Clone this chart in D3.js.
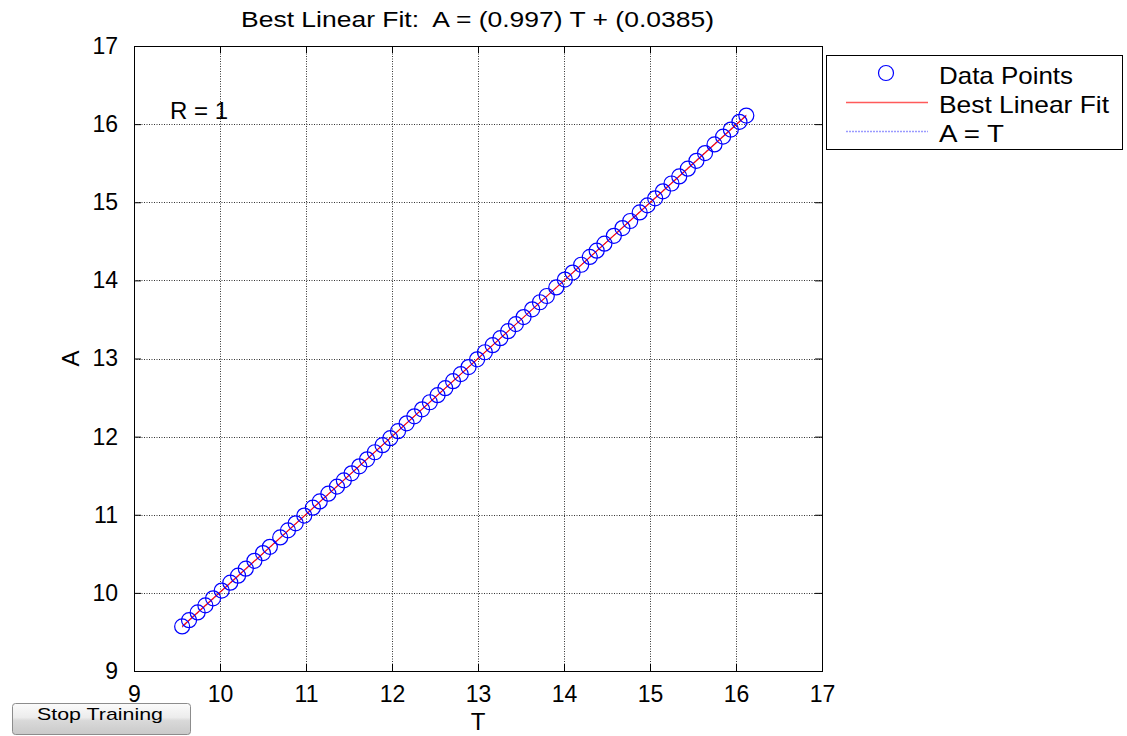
<!DOCTYPE html>
<html>
<head>
<meta charset="utf-8">
<script src="https://cdn.jsdelivr.net/npm/d3@7/dist/d3.min.js"></script>
<style>
  html, body { margin: 0; padding: 0; background: #fff; }
  svg { display: block; }
  text { font-family: Arial, "Liberation Sans", Helvetica, sans-serif; fill: #000; white-space: pre; }
</style>
</head>
<body>
<svg id="chart" width="1127" height="736"></svg>
<script>
// Targets (T) and network outputs (A)
const targets = [
  9.56, 9.64, 9.74, 9.83, 9.92, 10.02, 10.12, 10.21, 10.30, 10.40, 10.50, 10.58,
  10.70, 10.79, 10.88, 10.98, 11.08, 11.16, 11.26, 11.36, 11.44, 11.53, 11.62,
  11.71, 11.80, 11.89, 11.98, 12.07, 12.17, 12.26, 12.35, 12.44, 12.53, 12.62,
  12.71, 12.80, 12.89, 12.99, 13.08, 13.17, 13.26, 13.35, 13.44, 13.53, 13.63,
  13.72, 13.80, 13.91, 14.01, 14.10, 14.20, 14.30, 14.38, 14.47, 14.58, 14.68,
  14.77, 14.88, 14.97, 15.06, 15.15, 15.25, 15.34, 15.44, 15.54, 15.64, 15.75,
  15.85, 15.94, 16.04, 16.12
];
const outputs = [
  9.57, 9.65, 9.75, 9.84, 9.93, 10.03, 10.13, 10.22, 10.31, 10.41, 10.51, 10.59,
  10.71, 10.80, 10.89, 10.99, 11.09, 11.17, 11.27, 11.36, 11.44, 11.53, 11.62,
  11.71, 11.80, 11.89, 11.98, 12.07, 12.17, 12.26, 12.35, 12.44, 12.53, 12.62,
  12.71, 12.80, 12.89, 12.99, 13.08, 13.17, 13.26, 13.35, 13.44, 13.53, 13.63,
  13.72, 13.80, 13.91, 14.01, 14.10, 14.20, 14.30, 14.38, 14.47, 14.57, 14.67,
  14.76, 14.87, 14.96, 15.05, 15.14, 15.24, 15.33, 15.43, 15.53, 15.63, 15.74,
  15.84, 15.93, 16.03, 16.11
];
const fitSlope = 0.997;
const fitIntercept = 0.0385;
const corrR = 1;
const xTicks = [9, 10, 11, 12, 13, 14, 15, 16, 17];
const yTicks = [9, 10, 11, 12, 13, 14, 15, 16, 17];
const legendLabels = ["Data Points", "Best Linear Fit", "A = T"];

const svg = d3.select("#chart");
const plotL = 134, plotR = 822, plotT = 46, plotB = 671;

const x = d3.scaleLinear().domain([9, 17]).range([plotL, plotR]);
const y = d3.scaleLinear().domain([9, 17]).range([plotB, plotT]);

// grid (dotted)
const grid = svg.append("g");
grid.selectAll(".gx").data(xTicks.slice(1, -1)).join("line")
  .attr("x1", d => Math.round(x(d)) + 0.5).attr("x2", d => Math.round(x(d)) + 0.5)
  .attr("y1", plotT).attr("y2", plotB)
  .attr("stroke", "#333").attr("stroke-width", 1).attr("stroke-dasharray", "1,1.5");
grid.selectAll(".gy").data(yTicks.slice(1, -1)).join("line")
  .attr("y1", d => Math.round(y(d)) + 0.5).attr("y2", d => Math.round(y(d)) + 0.5)
  .attr("x1", plotL).attr("x2", plotR)
  .attr("stroke", "#333").attr("stroke-width", 1).attr("stroke-dasharray", "1,1.5");

// axes with inward ticks on all four sides
const tickLen = 7;
const axB = svg.append("g").attr("transform", `translate(0,${plotB})`)
  .call(d3.axisBottom(x).tickValues(xTicks).tickSizeInner(-tickLen).tickSizeOuter(0).tickPadding(15));
const axT = svg.append("g").attr("transform", `translate(0,${plotT})`)
  .call(d3.axisTop(x).tickValues(xTicks).tickSizeInner(-tickLen).tickSizeOuter(0).tickFormat(""));
const axL = svg.append("g").attr("transform", `translate(${plotL},0)`)
  .call(d3.axisLeft(y).tickValues(yTicks).tickSizeInner(-tickLen).tickSizeOuter(0).tickPadding(16));
const axR = svg.append("g").attr("transform", `translate(${plotR},0)`)
  .call(d3.axisRight(y).tickValues(yTicks).tickSizeInner(-tickLen).tickSizeOuter(0).tickFormat(""));
[axB, axT, axL, axR].forEach(a => {
  a.select(".domain").remove();
  a.selectAll("line").attr("stroke", "#000");
});
axB.selectAll("text").attr("font-size", 23).attr("font-family", "Arial, 'Liberation Sans', sans-serif").attr("fill", "#000");
axL.selectAll("text").attr("font-size", 23).attr("font-family", "Arial, 'Liberation Sans', sans-serif").attr("fill", "#000");

// plot box
svg.append("rect").attr("x", plotL + 0.5).attr("y", plotT + 0.5)
  .attr("width", plotR - plotL).attr("height", plotB - plotT)
  .attr("fill", "none").attr("stroke", "#000").attr("stroke-width", 1);

// A = T reference line (dotted blue) and best linear fit (red)
const tMin = d3.min(targets), tMax = d3.max(targets);
svg.append("line")
  .attr("x1", x(tMin)).attr("y1", y(tMin)).attr("x2", x(tMax)).attr("y2", y(tMax))
  .attr("stroke", "#4040ff").attr("stroke-width", 1).attr("stroke-dasharray", "1,1");
svg.append("line")
  .attr("x1", x(tMin)).attr("y1", y(fitSlope * tMin + fitIntercept))
  .attr("x2", x(tMax)).attr("y2", y(fitSlope * tMax + fitIntercept))
  .attr("stroke", "#ff0000").attr("stroke-width", 1.1);

// data points
svg.append("g").selectAll("circle").data(targets).join("circle")
  .attr("cx", (d) => x(d)).attr("cy", (d, i) => y(outputs[i]))
  .attr("r", 7.5).attr("fill", "none").attr("stroke", "#0000ff").attr("stroke-width", 1.2);

// title and labels
svg.append("text").attr("x", 241).attr("y", 27).attr("font-size", 22)
  .attr("xml:space", "preserve")
  .attr("textLength", 473).attr("lengthAdjust", "spacingAndGlyphs")
  .text(`Best Linear Fit:  A = (${fitSlope}) T + (${fitIntercept})`);
svg.append("text").attr("x", 170).attr("y", 119).attr("font-size", 24)
  .text(`R = ${corrR}`);
svg.append("text").attr("x", (plotL + plotR) / 2).attr("y", 730).attr("font-size", 24)
  .attr("text-anchor", "middle").text("T");
svg.append("text").attr("transform", `translate(79,${(plotT + plotB) / 2}) rotate(-90)`)
  .attr("font-size", 24).attr("text-anchor", "middle").text("A");

// legend
const lg = svg.append("g");
lg.append("rect").attr("x", 826.5).attr("y", 55.5).attr("width", 296).attr("height", 94)
  .attr("fill", "#fff").attr("stroke", "#000").attr("stroke-width", 1);
const rowY = [73, 102, 131];
const textW = [134, 170, 65];
lg.selectAll("text").data(legendLabels).join("text")
  .attr("x", 939).attr("y", (d, i) => rowY[i] + 11).attr("font-size", 24)
  .attr("textLength", (d, i) => textW[i]).attr("lengthAdjust", "spacingAndGlyphs")
  .text(d => d);
lg.append("circle").attr("cx", 886).attr("cy", rowY[0]).attr("r", 7.5)
  .attr("fill", "none").attr("stroke", "#0000ff").attr("stroke-width", 1.2);
lg.append("line").attr("x1", 846).attr("x2", 928).attr("y1", rowY[1] + 0.5).attr("y2", rowY[1] + 0.5)
  .attr("stroke", "#ff5a5a").attr("stroke-width", 1.3);
lg.append("line").attr("x1", 846).attr("x2", 928).attr("y1", rowY[2] + 0.5).attr("y2", rowY[2] + 0.5)
  .attr("stroke", "#9a9aff").attr("stroke-width", 1.3).attr("stroke-dasharray", "2,1");

// Stop Training button
const defs = svg.append("defs");
const grad = defs.append("linearGradient").attr("id", "btnGrad").attr("x1", 0).attr("y1", 0).attr("x2", 0).attr("y2", 1);
grad.append("stop").attr("offset", "0%").attr("stop-color", "#fbfbfb");
grad.append("stop").attr("offset", "45%").attr("stop-color", "#ececec");
grad.append("stop").attr("offset", "55%").attr("stop-color", "#d9d9d9");
grad.append("stop").attr("offset", "100%").attr("stop-color", "#c9c9c9");
svg.append("rect").attr("x", 12.5).attr("y", 703.5).attr("width", 178).attr("height", 31)
  .attr("rx", 3).attr("fill", "url(#btnGrad)").attr("stroke", "#8c8c8c");
svg.append("text").attr("x", 37).attr("y", 720).attr("font-size", 17)
  .attr("textLength", 126).attr("lengthAdjust", "spacingAndGlyphs")
  .text("Stop Training");
</script>
</body>
</html>
